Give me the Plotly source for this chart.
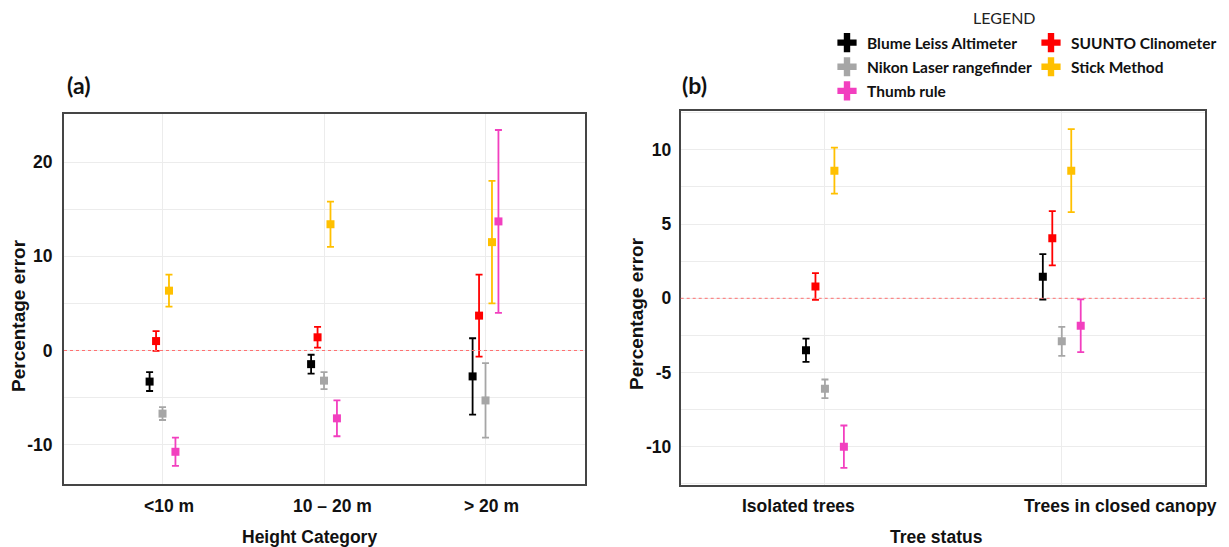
import plotly.graph_objects as go

# ---------------- data ----------------
methods = ["Blume Leiss Altimeter", "SUUNTO Clinometer", "Nikon Laser rangefinder",
           "Stick Method", "Thumb rule"]
colors = ["#000000", "#ff0000", "#a6a6a6", "#ffc000", "#f23fbf"]
dodge = [-0.08, -0.04, 0.0, 0.04, 0.08]

height_cats = ["<10 m", "10 – 20 m", "> 20 m"]
blume_a = [-3.3, -1.45, -2.75]
blume_a_err = [1.0, 1.0, 4.05]
suunto_a = [1.0, 1.4, 3.7]
suunto_a_err = [1.05, 1.1, 4.35]
nikon_a = [-6.7, -3.2, -5.3]
nikon_a_err = [0.68, 0.9, 3.95]
stick_a = [6.35, 13.4, 11.5]
stick_a_err = [1.7, 2.4, 6.5]
thumb_a = [-10.75, -7.2, 13.7]
thumb_a_err = [1.5, 1.9, 9.7]

status_cats = ["Isolated trees", "Trees in closed canopy"]
blume_b = [-3.5, 1.45]
blume_b_err = [0.78, 1.53]
suunto_b = [0.8, 4.05]
suunto_b_err = [0.9, 1.83]
nikon_b = [-6.1, -2.9]
nikon_b_err = [0.63, 0.98]
stick_b = [8.6, 8.6]
stick_b_err = [1.55, 2.8]
thumb_b = [-10.0, -1.85]
thumb_b_err = [1.43, 1.78]

series_a = [(blume_a, blume_a_err), (suunto_a, suunto_a_err), (nikon_a, nikon_a_err),
            (stick_a, stick_a_err), (thumb_a, thumb_a_err)]
series_b = [(blume_b, blume_b_err), (suunto_b, suunto_b_err), (nikon_b, nikon_b_err),
            (stick_b, stick_b_err), (thumb_b, thumb_b_err)]

# ---------------- geometry helpers (page has 8px body margin) ----------------
W, H, OFF = 1229, 547, 8
def X(px):
    return (px - OFF) / W
def Y(py):
    return 1 - (py - OFF) / H

# ---------------- figure ----------------
fig = go.Figure()

def add_panel(series, cats, xa, ya):
    for i, (vals, errs) in enumerate(series):
        xs = [k + dodge[i] for k in range(len(cats))]
        fig.add_trace(go.Scatter(
            x=xs, y=vals, mode="markers", xaxis=xa, yaxis=ya, showlegend=False,
            marker=dict(symbol="square", size=8, color=colors[i]),
            error_y=dict(type="data", array=errs, visible=True, color=colors[i],
                         thickness=1.8, width=3.5),
        ))

add_panel(series_a, height_cats, "x", "y")
add_panel(series_b, status_cats, "x2", "y2")

# legend-only entries (two columns)
legend_of = ["legend", "legend2", "legend", "legend2", "legend"]
for i, m in enumerate(methods):
    fig.add_trace(go.Scatter(
        x=[None], y=[None], mode="markers", name=m, legend=legend_of[i],
        legendgroup=m, showlegend=True,
        marker=dict(symbol="cross", size=20, color=colors[i]),
    ))

tickfont = dict(family="Liberation Sans, Arial", size=17.5, color="#111111", weight="bold")
grid = "#ececec"
box = "#454545"
legfont = dict(family="Lato", size=15.5, color="#111111", weight="bold")

fig.update_layout(
    width=W, height=H,
    margin=dict(l=0, r=0, t=0, b=0),
    paper_bgcolor="white", plot_bgcolor="white",
    xaxis=dict(domain=[X(64), X(585)], range=[-0.61, 2.616],
               tickvals=list(range(len(height_cats))), ticktext=["", "", ""],
               showgrid=True, gridcolor=grid, gridwidth=1, zeroline=False,
               showline=True, mirror=True, linecolor=box, linewidth=2, ticks=""),
    yaxis=dict(domain=[Y(484), Y(114)], range=[-14.17, 25.1],
               tickvals=[-10, 0, 10, 20], ticktext=["-10", "0", "10", "20"],
               showgrid=True, gridcolor=grid, gridwidth=1, zeroline=False,
               minor=dict(dtick=5, tick0=0, showgrid=True, gridcolor=grid, gridwidth=1),
               showline=True, mirror=True, linecolor=box, linewidth=2,
               ticks="", tickfont=tickfont, ticklabelstandoff=6),
    xaxis2=dict(domain=[X(680.7), X(1205.3)], range=[-0.609, 1.606], anchor="y2",
                tickvals=list(range(len(status_cats))), ticktext=["", ""],
                showgrid=True, gridcolor=grid, gridwidth=1, zeroline=False,
                showline=True, mirror=True, linecolor=box, linewidth=2, ticks=""),
    yaxis2=dict(domain=[Y(485.3), Y(111.3)], range=[-12.6, 12.6], anchor="x2",
                tickvals=[-10, -5, 0, 5, 10], ticktext=["-10", "-5", "0", "5", "10"],
                showgrid=True, gridcolor=grid, gridwidth=1, zeroline=False,
                minor=dict(dtick=2.5, tick0=0, showgrid=True, gridcolor=grid, gridwidth=1),
                showline=True, mirror=True, linecolor=box, linewidth=2,
                ticks="", tickfont=tickfont, ticklabelstandoff=4),
    legend=dict(x=X(827), y=Y(26), xanchor="left", yanchor="top",
                bgcolor="rgba(0,0,0,0)", tracegroupgap=1, itemwidth=30, font=legfont),
    legend2=dict(x=X(1031), y=Y(26), xanchor="left", yanchor="top",
                 bgcolor="rgba(0,0,0,0)", tracegroupgap=1, itemwidth=30, font=legfont),
)

# zero reference lines
for xr, yr in (("x", "y"), ("x2", "y2")):
    fig.add_shape(type="line", xref=f"{xr} domain", yref=yr, x0=0, x1=1, y0=0, y1=0,
                  line=dict(color="#ff7070", width=1, dash="dot"), layer="above")

# category labels (placed slightly off the category lines, as in the source)
label_shift_a = [0.04, 0.055, 0.04]
for k, lab in enumerate(height_cats):
    fig.add_annotation(xref="x", yref="paper", x=k + label_shift_a[k], y=Y(506),
                       text=lab, showarrow=False, xanchor="center", yanchor="middle",
                       font=tickfont)
label_shift_b = [-0.11, 0.25]
for k, lab in enumerate(status_cats):
    fig.add_annotation(xref="x2", yref="paper", x=k + label_shift_b[k], y=Y(506),
                       text=lab, showarrow=False, xanchor="center", yanchor="middle",
                       font=tickfont)

title_font = dict(family="Liberation Sans, Arial", size=17.5, color="#111111", weight="bold")
ytitle_font = dict(family="Liberation Sans, Arial", size=19, color="#111111", weight="bold")
annos = [
    dict(text="Percentage error", x=X(18), y=Y(316), textangle=-90, font=ytitle_font),
    dict(text="Percentage error", x=X(636), y=Y(314), textangle=-90, font=ytitle_font),
    dict(text="Height Category", x=X(309), y=Y(537), font=title_font),
    dict(text="Tree status", x=X(936), y=Y(537), font=title_font),
    dict(text="(a)", x=X(78), y=Y(85),
         font=dict(family="Lato", size=23, color="#111111", weight="bold")),
    dict(text="(b)", x=X(694), y=Y(85),
         font=dict(family="Lato", size=23, color="#111111", weight="bold")),
    dict(text="LEGEND", x=X(1004), y=Y(17),
         font=dict(family="Lato", size=16, color="#222222")),
]
for a in annos:
    fig.add_annotation(xref="paper", yref="paper", showarrow=False,
                       xanchor="center", yanchor="middle", **a)

fig.write_html("out.html")
